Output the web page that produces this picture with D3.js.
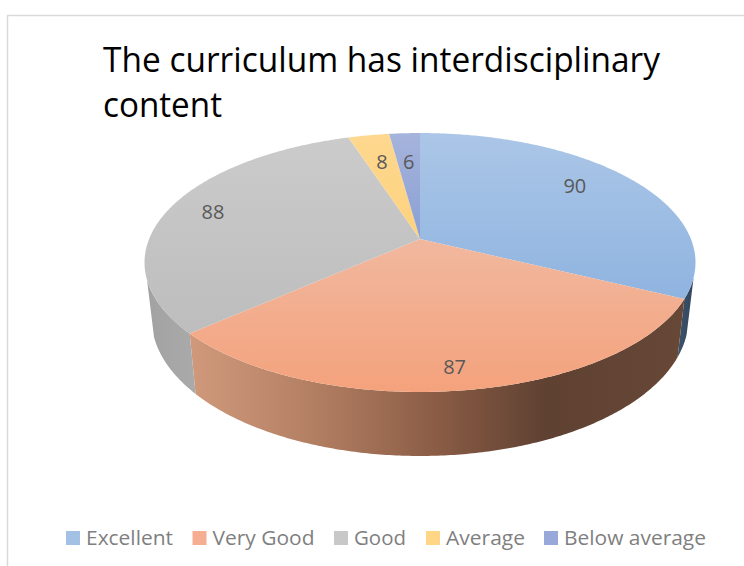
<!DOCTYPE html>
<html>
<head>
<meta charset="utf-8">
<style>
    html, body { margin: 0; padding: 0; background: #fff; }
    svg { display: block; }
    text { font-family: "Open Sans", sans-serif; }
</style>
</head>
<body>
<svg id="chart" width="744" height="566"></svg>
<script src="https://cdn.jsdelivr.net/npm/d3@7/dist/d3.min.js"></script>
<script>
const categories = ["Excellent", "Very Good", "Good", "Average", "Below average"]
const values = [90, 87, 88, 8, 6]
const titleLines = ["The curriculum has interdisciplinary", "content"]

// top face gradient per slice (back to front)
const topColors = [
    ["#abc6e7", "#8fb4e0"],
    ["#f1b89f", "#f4a27c"],
    ["#cbcbcb", "#bdbdbd"],
    ["#fed88f", "#fdd27f"],
    ["#a6b4dc", "#8a9fd4"],
]
const swatchColors = ["#a3c1e5", "#f5ae92", "#c8c8c8", "#ffd685", "#98a8d8"]
const wallStops = [
    [[0, "#3c536c"], [1, "#33475c"]],
    [[0, "#d0997c"], [0.25, "#b37f63"], [0.5, "#8a5c45"], [0.72, "#5f4132"], [1, "#674837"]],
    [[0, "#a2a2a2"], [1, "#aaaaaa"]],
]

// projection of the tilted disc, fitted to the rim of the picture
const cx = 420, cy = 239
const a = 270.9, b = 125.2, k = 0.1815
const bottomA = 264, bottomB = 133, bottomY = 293.5

function project(angle, r) {
    let u = Math.sin(angle) * r
    let v = -Math.cos(angle) * r
    let d = 1 - k * v
    return [cx + a * u / d, cy + b * v / d]
}
function projectBottom(angle) {
    let u = Math.sin(angle)
    let v = -Math.cos(angle)
    let d = 1 - k * v
    return [cx + bottomA * u / d, bottomY + bottomB * v / d]
}
function arcPoints(fn, a0, a1) {
    let n = Math.max(2, Math.ceil(Math.abs(a1 - a0) / 0.01))
    return d3.range(n + 1).map(i => fn(a0 + (a1 - a0) * i / n))
}

const svg = d3.select("#chart")
const defs = svg.append("defs")
const line = d3.line()

// frame
svg.append("path")
    .attr("d", "M 744,15.5 L 7.5,15.5 L 7.5,566")
    .attr("fill", "none")
    .attr("stroke", "#d9d9d9")
    .attr("stroke-width", 1.5)

const slices = d3.pie().sort(null)(values)

// side walls, only the front part shows. the cut at these angles gives the straight outline
const frontFrom = 107 * Math.PI / 180, frontTo = 252 * Math.PI / 180
slices.forEach((s, i) => {
    let a0 = Math.max(s.startAngle, frontFrom)
    let a1 = Math.min(s.endAngle, frontTo)
    if (a0 >= a1 || !wallStops[i]) return
    let grad = defs.append("linearGradient")
        .attr("id", `wall-${i}`)
        .attr("gradientUnits", "userSpaceOnUse")
    let pts = arcPoints(t => project(t, 1), a0, a1).concat(arcPoints(projectBottom, a1, a0))
    let [x0, x1] = d3.extent(pts, p => p[0])
    grad.attr("x1", x0).attr("x2", x1).attr("y1", 0).attr("y2", 0)
    for (let [o, c] of wallStops[i]) {
        grad.append("stop").attr("offset", o).attr("stop-color", c)
    }
    svg.append("path")
        .attr("d", line(pts) + "Z")
        .attr("fill", `url(#wall-${i})`)
})

// top faces
slices.forEach((s, i) => {
    let pts = [project(0, 0)].concat(arcPoints(t => project(t, 1), s.startAngle, s.endAngle))
    let [y0, y1] = d3.extent(pts, p => p[1])
    let grad = defs.append("linearGradient")
        .attr("id", `top-${i}`)
        .attr("gradientUnits", "userSpaceOnUse")
        .attr("x1", 0).attr("x2", 0).attr("y1", y0).attr("y2", y1)
    grad.append("stop").attr("offset", 0).attr("stop-color", topColors[i][0])
    grad.append("stop").attr("offset", 1).attr("stop-color", topColors[i][1])
    svg.append("path")
        .attr("d", line(pts) + "Z")
        .attr("fill", `url(#top-${i})`)
})

// data labels
const labelRadius = [0.72, 0.87, 0.823, 0.707, 0.7]
const labelNudgeX = [0, -3, 0, 0, 0]
const labelNudgeY = [-9, 0, -1, -1, 0]
svg.append("g")
    .selectAll("text")
    .data(slices)
    .join("text")
        .attr("x", (d, i) => project((d.startAngle + d.endAngle) / 2, labelRadius[i])[0] + labelNudgeX[i])
        .attr("y", (d, i) => project((d.startAngle + d.endAngle) / 2, labelRadius[i])[1] + labelNudgeY[i])
        .attr("dy", "0.36em")
        .attr("text-anchor", "middle")
        .attr("font-size", 20)
        .attr("fill", "#595959")
        .text(d => d.value)

// title
const titleWidth = [557, 119]
svg.append("g")
    .selectAll("text")
    .data(titleLines)
    .join("text")
        .attr("x", 103)
        .attr("y", (d, i) => 72 + i * 45)
        .attr("font-size", 34)
        .attr("fill", "#000")
        .attr("textLength", (d, i) => titleWidth[i])
        .attr("lengthAdjust", "spacingAndGlyphs")
        .text(d => d)

// legend
const legendSwatchX = [66, 192.5, 334, 426, 544]
const legendTextWidth = [87, 102, 52, 79, 142]
let legend = svg.append("g")
    .selectAll("g")
    .data(categories)
    .join("g")
legend.append("rect")
    .attr("x", (d, i) => legendSwatchX[i])
    .attr("y", 531)
    .attr("width", 14)
    .attr("height", 14)
    .attr("fill", (d, i) => swatchColors[i])
legend.append("text")
    .attr("x", (d, i) => legendSwatchX[i] + 20)
    .attr("y", 545)
    .attr("font-size", 20)
    .attr("fill", "#7f7f7f")
    .attr("textLength", (d, i) => legendTextWidth[i])
    .attr("lengthAdjust", "spacingAndGlyphs")
    .text(d => d)
</script>
</body>
</html>
